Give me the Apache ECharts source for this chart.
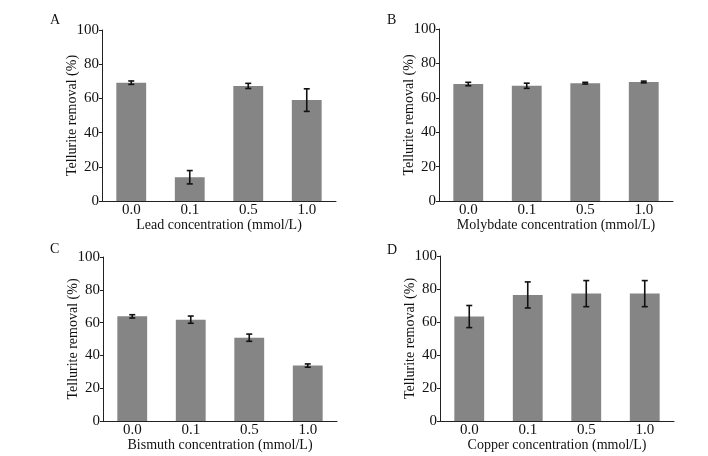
<!DOCTYPE html>
<html><head><meta charset="utf-8">
<script src="https://cdn.jsdelivr.net/npm/echarts@6/dist/echarts.min.js"></script>
<style>html,body{margin:0;padding:0;background:#fff}#c{width:708px;height:456px}</style>
</head><body><div id="c"></div>
<script>
var categories = ['0.0', '0.1', '0.5', '1.0'];
var yTicks = [0, 20, 40, 60, 80, 100];
var leadMean = [69.2, 13.9, 67.3, 59.0];
var leadErr = [1.0, 3.9, 1.5, 6.6];
var molyMean = [68.0, 67.0, 68.5, 69.2];
var molyErr = [1.0, 1.5, 0.5, 0.5];
var bisMean = [63.8, 61.8, 50.8, 33.8];
var bisErr = [1.0, 2.2, 2.2, 1.0];
var copMean = [63.3, 76.4, 77.2, 77.2];
var copErr = [6.7, 7.9, 7.9, 7.9];
var panelLetters = ['A', 'B', 'C', 'D'];
var xTitles = ['Lead concentration (mmol/L)', 'Molybdate concentration (mmol/L)', 'Bismuth concentration (mmol/L)', 'Copper concentration (mmol/L)'];
var yTitle = 'Tellurite removal (%)';

var panels = [
  {mean: leadMean, err: leadErr, grid: {left: 102, top: 30, width: 234, height: 171}, lx: 50, ly: 13},
  {mean: molyMean, err: molyErr, grid: {left: 439, top: 29, width: 234, height: 172}, lx: 387, ly: 13},
  {mean: bisMean, err: bisErr, grid: {left: 103, top: 257, width: 234, height: 164}, lx: 50, ly: 242},
  {mean: copMean, err: copErr, grid: {left: 440, top: 256, width: 234, height: 165}, lx: 387, ly: 243}
];

var font = 'Liberation Serif, Times New Roman, serif';
var option = {animation: false, backgroundColor: '#fff', grid: [], xAxis: [], yAxis: [], series: [], graphic: []};
panels.forEach(function (p, i) {
  option.grid.push(p.grid);
  option.xAxis.push({
    type: 'category', gridIndex: i, data: categories,
    axisLine: {lineStyle: {color: '#222', width: 1}}, axisTick: {show: false},
    axisLabel: {color: '#111', fontFamily: font, fontSize: 15, margin: 2},
    name: xTitles[i], nameLocation: 'middle', nameGap: 17, nameMoveOverlap: false,
    nameTextStyle: {color: '#111', fontFamily: font, fontSize: 14}
  });
  option.yAxis.push({
    type: 'value', gridIndex: i, min: 0, max: 100, interval: 20,
    splitLine: {show: false},
    axisLine: {show: true, lineStyle: {color: '#222', width: 1}},
    axisTick: {show: true, length: 3, lineStyle: {color: '#222'}},
    axisLabel: {color: '#111', fontFamily: font, fontSize: 15, margin: 3,
      formatter: function (v) { return yTicks.indexOf(v) >= 0 ? String(v) : ''; }},
    name: yTitle, nameLocation: 'middle', nameGap: 23, nameMoveOverlap: false,
    nameTextStyle: {color: '#111', fontFamily: font, fontSize: 14}
  });
  option.series.push({
    type: 'bar', xAxisIndex: i, yAxisIndex: i, data: p.mean, barWidth: '51%',
    itemStyle: {color: '#858585'}
  });
  var errData = p.mean.map(function (m, k) { return [k, m - p.err[k], m + p.err[k]]; });
  option.series.push({
    type: 'custom', xAxisIndex: i, yAxisIndex: i, data: errData, z: 10,
    renderItem: function (params, api) {
      var x = api.value(0);
      var lo = api.coord([x, api.value(1)]);
      var hi = api.coord([x, api.value(2)]);
      var hw = 3;
      var st = {stroke: '#111', lineWidth: 1.6};
      return {type: 'group', children: [
        {type: 'line', shape: {x1: lo[0], y1: lo[1], x2: hi[0], y2: hi[1]}, style: st},
        {type: 'line', shape: {x1: lo[0] - hw, y1: lo[1], x2: lo[0] + hw, y2: lo[1]}, style: st},
        {type: 'line', shape: {x1: hi[0] - hw, y1: hi[1], x2: hi[0] + hw, y2: hi[1]}, style: st}
      ]};
    }
  });
  option.graphic.push({type: 'text', left: p.lx, top: p.ly,
    style: {text: panelLetters[i], font: '14px ' + font, fill: '#111'}});
});
echarts.init(document.getElementById('c')).setOption(option);
</script></body></html>
